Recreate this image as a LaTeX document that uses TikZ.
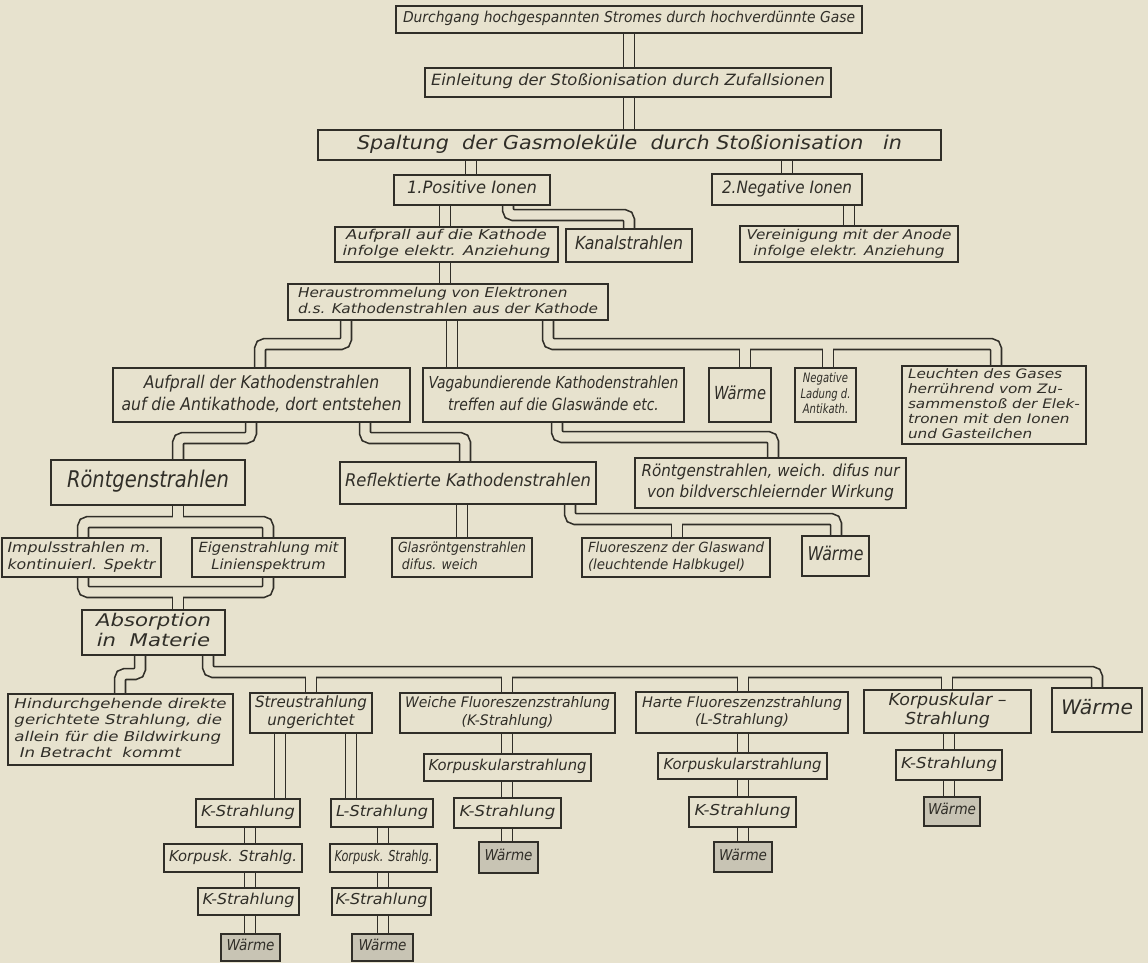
\documentclass[tikz,border=0pt]{standalone}
\usepackage{fontspec}
\setmainfont{DejaVu Sans}
\pgfdeclarelayer{bg}
\pgfsetlayers{bg,main}
\definecolor{paper}{RGB}{231,226,206}
\definecolor{ink}{RGB}{48,46,40}
\definecolor{shade}{RGB}{200,196,180}
\newlength\fitlen
\newcommand\fitw[2]{\settowidth\fitlen{#2}\pgfmathsetmacro\fitf{#1/\fitlen}\scalebox{\fitf}[1]{#2}}
\newcommand\tx[4]{\fontsize{#1}{#2}\selectfont\begin{tabular}{@{}#3@{}}#4\end{tabular}}
\newcommand\bx[8][paper]{\pgfmathsetmacro\bw{#5-#3}\pgfmathsetmacro\bh{#6-#4}\pgfmathsetmacro\bcx{(#3+#5)/2}\pgfmathsetmacro\bcy{(#4+#6)/2}\node[box,fill=#1,minimum width=\bw pt,minimum height=\bh pt] (#2) at (\bcx,\bcy) {\fitw{#7}{#8}};}
\newcommand\allpipes[1]{%
\draw[#1] (629,0 |- dur.south) -- (629,0 |- ein.north);
\draw[#1] (629,0 |- ein.south) -- (629,0 |- spa.north);
\draw[#1] (471,0 |- spa.south) -- (471,0 |- pos.north);
\draw[#1] (787,0 |- spa.south) -- (787,0 |- neg.north);
\draw[#1] (445,0 |- pos.south) -- (445,0 |- auf.north);
\draw[#1] (508,0 |- pos.south) -- (508,215) -- (629,215) -- (629,0 |- kan.north);
\draw[#1] (849,0 |- neg.south) -- (849,0 |- ver.north);
\draw[#1] (445,0 |- auf.south) -- (445,0 |- her.north);
\draw[#1] (346,0 |- her.south) -- (346,344) -- (260,344) -- (260,0 |- aufk.north);
\draw[#1] (452,0 |- her.south) -- (452,0 |- vag.north);
\draw[#1] (548,0 |- her.south) -- (548,344) -- (996,344) -- (996,0 |- leu.north);
\draw[#1] (745,344) -- (745,0 |- wa.north);
\draw[#1] (828,344) -- (828,0 |- nl.north);
\draw[#1] (251,0 |- aufk.south) -- (251,438) -- (178,438) -- (178,0 |- rg.north);
\draw[#1] (365,0 |- aufk.south) -- (365,438) -- (465,438) -- (465,0 |- ref.north);
\draw[#1] (557,0 |- vag.south) -- (557,437) -- (773,437) -- (773,0 |- rw.north);
\draw[#1] (178,0 |- rg.south) -- (178,522);
\draw[#1] (83,0 |- imp.north) -- (83,522) -- (268,522) -- (268,0 |- eig.north);
\draw[#1] (462,0 |- ref.south) -- (462,0 |- gla.north);
\draw[#1] (570,0 |- ref.south) -- (570,519) -- (836,519) -- (836,0 |- wb.north);
\draw[#1] (677,519) -- (677,0 |- flu.north);
\draw[#1] (83,0 |- imp.south) -- (83,592) -- (268,592) -- (268,0 |- eig.south);
\draw[#1] (178,592) -- (178,0 |- abs.north);
\draw[#1] (140,0 |- abs.south) -- (140,674) -- (120,674) -- (120,0 |- hin.north);
\draw[#1] (208,0 |- abs.south) -- (208,672) -- (1097,672) -- (1097,0 |- wc.north);
\draw[#1] (311,672) -- (311,0 |- str.north);
\draw[#1] (507,672) -- (507,0 |- wei.north);
\draw[#1] (743,672) -- (743,0 |- har.north);
\draw[#1] (947,672) -- (947,0 |- kor.north);
\draw[#1] (280,0 |- str.south) -- (280,0 |- sa.north);
\draw[#1] (351,0 |- str.south) -- (351,0 |- ta.north);
\draw[#1] (250,0 |- sa.south) -- (250,0 |- sb.north);
\draw[#1] (250,0 |- sb.south) -- (250,0 |- sc.north);
\draw[#1] (250,0 |- sc.south) -- (250,0 |- sd.north);
\draw[#1] (383,0 |- ta.south) -- (383,0 |- tb.north);
\draw[#1] (383,0 |- tb.south) -- (383,0 |- tc.north);
\draw[#1] (383,0 |- tc.south) -- (383,0 |- td.north);
\draw[#1] (507,0 |- wei.south) -- (507,0 |- wk1.north);
\draw[#1] (507,0 |- wk1.south) -- (507,0 |- wk2.north);
\draw[#1] (507,0 |- wk2.south) -- (507,0 |- ww.north);
\draw[#1] (743,0 |- har.south) -- (743,0 |- hk1.north);
\draw[#1] (743,0 |- hk1.south) -- (743,0 |- hk2.north);
\draw[#1] (743,0 |- hk2.south) -- (743,0 |- hw.north);
\draw[#1] (949,0 |- kor.south) -- (949,0 |- kk.north);
\draw[#1] (949,0 |- kk.south) -- (949,0 |- kw.north);
}
\begin{document}
\begin{tikzpicture}[x=1pt,y=-1pt,
  box/.style={draw=ink,line width=1.6pt,inner sep=0pt,font=\itshape,text=ink},
  pipeO/.style={draw=ink,line width=12.5pt,rounded corners=5pt},
  pipeI/.style={draw=paper,line width=9.2pt,rounded corners=5pt}]
\useasboundingbox (0,0) rectangle (1148,963);
% row 1-6
\bx{dur}{396}{6}{862}{33}{452}{\tx{15}{17}{c}{Durchgang hochgespannten Stromes durch hochverdünnte Gase}}
\bx{ein}{425}{68}{831}{97}{394}{\tx{15.5}{17}{c}{Einleitung der Stoßionisation durch Zufallsionen}}
\bx{spa}{318}{130}{941}{160}{545}{\tx{19}{21}{c}{Spaltung\ \ der Gasmoleküle\ \ durch Stoßionisation\ \ \ in}}
\bx{pos}{394}{175}{550}{205}{130}{\tx{17}{19}{c}{1.Positive Ionen}}
\bx{neg}{712}{174}{862}{205}{130}{\tx{17}{19}{c}{2.Negative Ionen}}
\bx{auf}{335}{227}{558}{262}{208}{\tx{13.5}{16}{c}{Aufprall auf die Kathode\\infolge elektr. Anziehung}}
\bx{kan}{566}{229}{692}{262}{108}{\tx{18}{20}{c}{Kanalstrahlen}}
\bx{ver}{740}{226}{958}{262}{205}{\tx{13.5}{16}{c}{Vereinigung mit der Anode\\infolge elektr. Anziehung}}
\bx{her}{288}{284}{608}{320}{300}{\tx{13.5}{16.5}{l}{Heraustrommelung von Elektronen\\d.s. Kathodenstrahlen aus der Kathode}}
% row 7
\bx{aufk}{113}{368}{410}{422}{280}{\tx{17.5}{22}{c}{Aufprall der Kathodenstrahlen\\auf die Antikathode, dort entstehen}}
\bx{vag}{423}{368}{684}{422}{250}{\tx{16.5}{22}{c}{Vagabundierende Kathodenstrahlen\\treffen auf die Glaswände etc.}}
\bx{wa}{709}{368}{771}{422}{52}{\tx{18}{20}{c}{Wärme}}
\bx{nl}{795}{368}{856}{422}{50}{\tx{13}{15.5}{c}{Negative\\Ladung d.\\Antikath.}}
\bx{leu}{902}{366}{1086}{444}{172}{\tx{13}{15}{l}{Leuchten des Gases\\herrührend vom Zu-\\sammenstoß der Elek-\\tronen mit den Ionen\\und Gasteilchen}}
% row 8
\bx{rg}{51}{460}{245}{505}{162}{\tx{23}{25}{c}{Röntgenstrahlen}}
\bx{ref}{340}{462}{596}{504}{246}{\tx{17.5}{19}{c}{Reflektierte Kathodenstrahlen}}
\bx{rw}{635}{458}{906}{508}{258}{\tx{16.5}{20.5}{c}{Röntgenstrahlen, weich. difus nur\\von bildverschleiernder Wirkung}}
% row 9
\bx{imp}{2}{538}{161}{577}{148}{\tx{14}{16.5}{l}{Impulsstrahlen m.\\kontinuierl. Spektr}}
\bx{eig}{192}{538}{345}{577}{140}{\tx{14}{16.5}{c}{Eigenstrahlung mit\\Linienspektrum}}
\bx{gla}{392}{538}{532}{577}{128}{\tx{14}{16.5}{l}{Glasröntgenstrahlen\\\ difus. weich}}
\bx{flu}{582}{538}{770}{577}{176}{\tx{14}{16.5}{l}{Fluoreszenz der Glaswand\\(leuchtende Halbkugel)}}
\bx{wb}{802}{536}{869}{576}{56}{\tx{19}{21}{c}{Wärme}}
% row 10-11
\bx{abs}{82}{610}{225}{655}{115}{\tx{17.5}{20}{c}{Absorption\\in\ \ Materie}}
\bx{hin}{8}{694}{233}{765}{212}{\tx{13.5}{16.5}{l}{Hindurchgehende direkte\\gerichtete Strahlung, die\\allein für die Bildwirkung\\\ In Betracht\ \ kommt}}
\bx{str}{250}{693}{372}{733}{112}{\tx{15.5}{17.5}{c}{Streustrahlung\\ungerichtet}}
\bx{wei}{400}{693}{615}{733}{205}{\tx{14.5}{17.5}{c}{Weiche Fluoreszenzstrahlung\\(K-Strahlung)}}
\bx{har}{636}{692}{848}{733}{200}{\tx{14.5}{17.5}{c}{Harte Fluoreszenzstrahlung\\(L-Strahlung)}}
\bx{kor}{864}{690}{1031}{733}{118}{\tx{16.5}{19}{c}{Korpuskular –\\Strahlung}}
\bx{wc}{1052}{688}{1142}{732}{72}{\tx{20}{22}{c}{Wärme}}
% lower branches
\bx{wk1}{424}{754}{591}{781}{158}{\tx{15}{16}{c}{Korpuskularstrahlung}}
\bx{wk2}{454}{798}{561}{828}{96}{\tx{15}{16}{c}{K-Strahlung}}
\bx[shade]{ww}{479}{842}{538}{873}{48}{\tx{15}{16}{c}{Wärme}}
\bx{hk1}{658}{753}{827}{779}{158}{\tx{15}{16}{c}{Korpuskularstrahlung}}
\bx{hk2}{689}{797}{796}{827}{96}{\tx{15}{16}{c}{K-Strahlung}}
\bx[shade]{hw}{714}{842}{772}{872}{48}{\tx{15}{16}{c}{Wärme}}
\bx{kk}{896}{750}{1002}{780}{96}{\tx{15}{16}{c}{K-Strahlung}}
\bx[shade]{kw}{924}{797}{980}{826}{48}{\tx{15}{16}{c}{Wärme}}
\bx{sa}{196}{799}{300}{827}{94}{\tx{15}{16}{c}{K-Strahlung}}
\bx{sb}{164}{844}{302}{872}{128}{\tx{15}{16}{c}{Korpusk. Strahlg.}}
\bx{sc}{198}{888}{299}{915}{92}{\tx{15}{16}{c}{K-Strahlung}}
\bx[shade]{sd}{221}{934}{280}{961}{48}{\tx{15}{16}{c}{Wärme}}
\bx{ta}{331}{799}{433}{827}{92}{\tx{15}{16}{c}{L-Strahlung}}
\bx{tb}{330}{844}{437}{872}{98}{\tx{15}{16}{c}{Korpusk. Strahlg.}}
\bx{tc}{332}{888}{431}{915}{92}{\tx{15}{16}{c}{K-Strahlung}}
\bx[shade]{td}{352}{934}{413}{961}{48}{\tx{15}{16}{c}{Wärme}}
\begin{pgfonlayer}{bg}
\fill[paper] (0,0) rectangle (1148,963);
\allpipes{pipeO}
\allpipes{pipeI}
\end{pgfonlayer}
\end{tikzpicture}
\end{document}
